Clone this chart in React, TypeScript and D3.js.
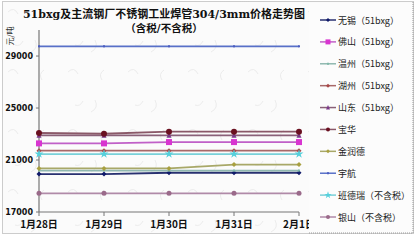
import React from "react";
import * as d3 from "d3";

const dates = ["1月28日", "1月29日", "1月30日", "1月31日", "2月1日"];
const seriesNames = [
  "无锡（51bxg）",
  "佛山（51bxg）",
  "温州（51bxg）",
  "湖州（51bxg）",
  "山东（51bxg）",
  "宝华",
  "金润德",
  "宇航",
  "班德瑞（不含税）",
  "银山（不含税）",
];
const wuxi = [19920, 19920, 20020, 20020, 20020];
const foshan = [22280, 22280, 22380, 22380, 22380];
const wenzhou = [20190, 20190, 20190, 20190, 20190];
const huzhou = [21720, 21720, 21720, 21720, 21720];
const shandong = [22900, 22900, 22900, 22900, 22900];
const baohua = [23080, 23020, 23180, 23180, 23180];
const jinrunde = [20350, 20350, 20350, 20650, 20650];
const yuhang = [29750, 29750, 29750, 29750, 29750];
const bandeRui = [21460, 21460, 21460, 21460, 21460];
const yinshan = [18440, 18440, 18440, 18440, 18440];
const yTicks = [17000, 21000, 25000, 29000];

const seriesValues = [wuxi, foshan, wenzhou, huzhou, shandong, baohua, jinrunde, yuhang, bandeRui, yinshan];
const colors = ["#101a6a", "#d835d0", "#7fb8a8", "#a84848", "#7a3a8a", "#6a1020", "#a8a040", "#4a5cc0", "#55d0dc", "#9a6a8a"];
const markers = ["diamond", "square", "tick", "diamond", "triangle", "circle", "diamond", "tick", "star", "circle"];
const lineColors = ["#283070", "#c060c8", "#90b8b0", "#a86868", "#8a6078", "#8a5868", "#a8a868", "#5870c8", "#78d0d8", "#b08aa8"];

function Marker({ kind, x, y, color, size }: { kind: string; x: number; y: number; color: string; size: number }) {
  const s = size;
  if (kind === "square") return <rect x={x - s} y={y - s} width={2 * s} height={2 * s} fill={color} />;
  if (kind === "circle") return <circle cx={x} cy={y} r={s} fill={color} />;
  if (kind === "triangle")
    return <path d={`M${x},${y - s - 0.5}L${x + s},${y + s}L${x - s},${y + s}Z`} fill={color} />;
  if (kind === "diamond")
    return <path d={`M${x},${y - s}L${x + s},${y}L${x},${y + s}L${x - s},${y}Z`} fill={color} />;
  if (kind === "star")
    return <path d={d3.symbol(d3.symbolStar, s * s * 4)()!} transform={`translate(${x},${y})`} fill={color} />;
  return <rect x={x - 1} y={y - 1} width={2} height={2} fill={color} />;
}

export default function App() {
  const W = 418;
  const H = 240;
  const x = d3.scalePoint<string>().domain(dates).range([39, 299]);
  const y = d3.scaleLinear().domain([17000, 30850]).range([212, 32]);
  const line = d3
    .line<number>()
    .x((_, i) => x(dates[i])!)
    .y((v) => y(v));

  const legendY = d3.scalePoint<string>().domain(seriesNames).range([20, 217]);

  return (
    <svg width={W} height={H} style={{ position: "absolute", left: 0, top: 0 }}>
      <defs>
        <pattern id="paper" width="60" height="60" patternUnits="userSpaceOnUse">
          <rect width="60" height="60" fill="#fbfbfb" />
          <path d="M8,12 q6,-6 10,2 M35,40 q4,8 -4,12 M44,10 q-6,4 -2,10 M15,45 q5,2 8,-4" stroke="#ececec" strokeWidth="1" fill="none" />
        </pattern>
      </defs>
      <rect x={0} y={0} width={W} height={H} fill="#ffffff" />
      <rect x={2.5} y={1.5} width={411} height={232} fill="url(#paper)" stroke="#9a9a9a" strokeDasharray="1,1" />

      {/* title */}
      <g fontFamily="'DejaVu Serif', 'Noto Sans CJK SC', serif" fontWeight="bold" fill="#111" textAnchor="middle">
        <text x={164} y={18} fontSize={11}>51bxg及主流钢厂不锈钢工业焊管304/3mm价格走势图</text>
        <text x={164} y={32} fontSize={10.5}>（含税/不含税）</text>
      </g>
      <text
        transform="translate(13,36) rotate(-90)"
        textAnchor="middle"
        fontSize={8}
        fontFamily="'Noto Sans CJK SC', sans-serif"
        fill="#333"
      >
        元/吨
      </text>

      {/* axes */}
      <line x1={39} y1={30} x2={39} y2={212} stroke="#777" strokeWidth={1.2} />
      <line x1={39} y1={212} x2={299} y2={212} stroke="#777" strokeWidth={1.2} />
      {yTicks.map((t) => (
        <g key={t}>
          <line x1={36} x2={39} y1={y(t)} y2={y(t)} stroke="#777" />
          <text x={33} y={y(t) + 3} textAnchor="end" fontSize={8} fontWeight="bold" fontFamily="'DejaVu Sans', sans-serif" fill="#111">
            {t}
          </text>
        </g>
      ))}
      {dates.map((d) => (
        <line key={d} x1={x(d)!} x2={x(d)!} y1={212} y2={216} stroke="#777" />
      ))}
      {dates.map((d) => (
        <text key={d} x={x(d)!} y={228} textAnchor="middle" fontSize={10} fontWeight="bold" fontFamily="'Noto Sans CJK SC', sans-serif" fill="#111">
          {d}
        </text>
      ))}

      {/* series */}
      {seriesValues.map((vals, si) => (
        <g key={seriesNames[si]}>
          <path d={line(vals)!} fill="none" stroke={lineColors[si]} strokeWidth={1.8} />
          {vals.map((v, i) => (
            <Marker key={i} kind={markers[si]} x={x(dates[i])!} y={y(v)} color={colors[si]} size={si === 1 ? 3 : si === 5 ? 3 : 2.5} />
          ))}
        </g>
      ))}

      {/* legend */}
      <rect x={309} y={3} width={104} height={230} fill="#fcfcfc" />
      {seriesNames.map((n, si) => {
        const ly = legendY(n)!;
        return (
          <g key={n}>
            <line x1={320} x2={336} y1={ly} y2={ly} stroke={lineColors[si]} strokeWidth={1.5} />
            <Marker kind={markers[si]} x={328} y={ly} color={colors[si]} size={si === 1 ? 2.5 : 2} />
            <text x={338} y={ly + 3.5} fontSize={9} fontFamily="'Noto Sans CJK SC', sans-serif" fill="#222">
              {n}
            </text>
          </g>
        );
      })}
      <line x1={413} x2={413} y1={2} y2={233} stroke="#9a9a9a" strokeDasharray="1,1" />
      <line x1={309} x2={413} y1={233} y2={233} stroke="#9a9a9a" strokeDasharray="1,1" />
    </svg>
  );
}
